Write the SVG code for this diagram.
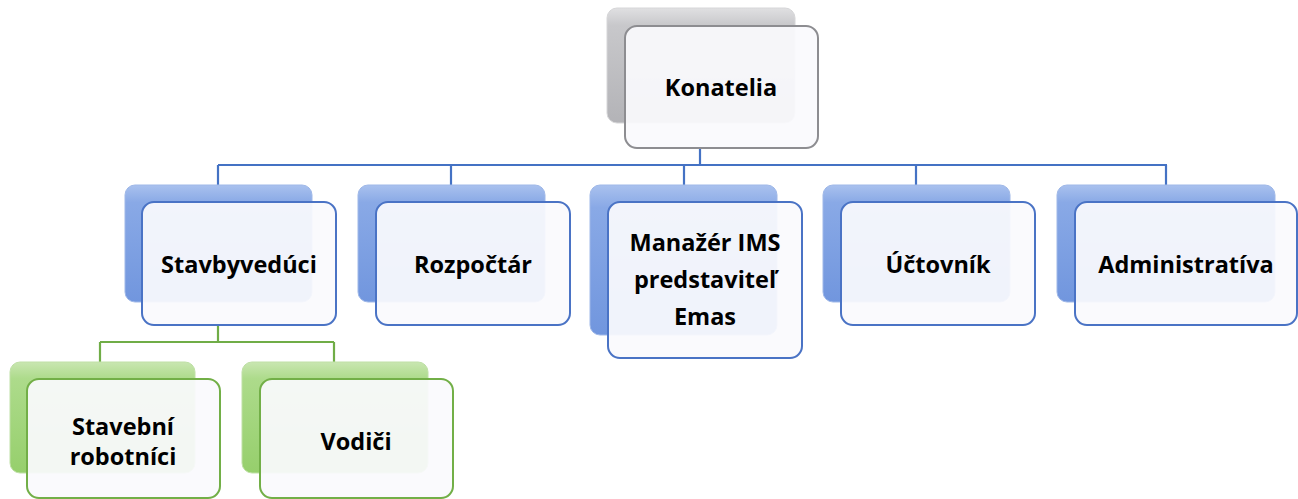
<svg xmlns="http://www.w3.org/2000/svg" width="1298" height="499" viewBox="0 0 1298 499">
<defs>
<linearGradient id="gBlue" x1="0" y1="0" x2="0" y2="1">
<stop offset="0" stop-color="#a9c1ee"/><stop offset="0.15" stop-color="#89a9e6"/><stop offset="1" stop-color="#7196de"/>
</linearGradient>
<linearGradient id="gGreen" x1="0" y1="0" x2="0" y2="1">
<stop offset="0" stop-color="#c9e6b1"/><stop offset="0.15" stop-color="#addb8b"/><stop offset="1" stop-color="#96cf6c"/>
</linearGradient>
<linearGradient id="gGray" x1="0" y1="0" x2="0" y2="1">
<stop offset="0" stop-color="#e0e0e2"/><stop offset="0.15" stop-color="#c8c8cb"/><stop offset="1" stop-color="#b3b3b7"/>
</linearGradient>
</defs>
<style>
.back{stroke-width:1;}
.bb{fill:url(#gBlue);stroke:#9fb8e8;}
.bg{fill:url(#gGreen);stroke:#bfe0a6;}
.bgr{fill:url(#gGray);stroke:#d6d6d8;}
.front{fill:#fafafd;fill-opacity:0.93;stroke-width:2;}
.fb{stroke:#4a73c5;}
.fg{stroke:#72af47;}
.fgr{stroke:#8d8d91;}
.t{font-family:"Open Sans","Liberation Sans",sans-serif;font-weight:700;font-size:23.5px;fill:#000;text-anchor:middle;}
.cb{stroke:#4472c4;stroke-width:2.2;fill:none;}
.cg{stroke:#70ad47;stroke-width:2.2;fill:none;}
</style>
<g id="connectors">
<path class="cb" d="M700 148V165M218 165H1167M218 165V185M451 165V185M684 165V185M916 165V185M1166 165V185"/>
<path class="cg" d="M218 325V342M100 342H334M100 342V362M334 342V362"/>
</g>
<g id="konatelia">
<rect class="back bgr" x="607" y="8" width="188" height="115" rx="10"/>
<rect class="front fgr" x="625" y="26" width="193" height="122" rx="12"/>
<text class="t" x="721" y="96">Konatelia</text>
</g>
<g id="stavbyveduci">
<rect class="back bb" x="125" y="185" width="187" height="117" rx="10"/>
<rect class="front fb" x="142" y="202" width="194" height="123" rx="12"/>
<text class="t" x="239" y="273">Stavbyvedúci</text>
</g>
<g id="rozpoctar">
<rect class="back bb" x="358" y="185" width="187" height="117" rx="10"/>
<rect class="front fb" x="376" y="202" width="194" height="123" rx="12"/>
<text class="t" x="473" y="273">Rozpočtár</text>
</g>
<g id="manazer">
<rect class="back bb" x="590" y="185" width="187" height="150" rx="10"/>
<rect class="front fb" x="608" y="202" width="194" height="156" rx="12"/>
<text class="t" x="705" y="251">Manažér IMS</text>
<text class="t" x="705" y="288">predstaviteľ</text>
<text class="t" x="705" y="325">Emas</text>
</g>
<g id="uctovnik">
<rect class="back bb" x="823" y="185" width="187" height="117" rx="10"/>
<rect class="front fb" x="841" y="202" width="194" height="123" rx="12"/>
<text class="t" x="938" y="273">Účtovník</text>
</g>
<g id="administrativa">
<rect class="back bb" x="1057" y="185" width="218" height="117" rx="10"/>
<rect class="front fb" x="1075" y="202" width="222" height="123" rx="12"/>
<text class="t" x="1186" y="273">Administratíva</text>
</g>
<g id="stavebni">
<rect class="back bg" x="10" y="362" width="185" height="111" rx="10"/>
<rect class="front fg" x="27" y="379" width="193" height="119" rx="12"/>
<text class="t" x="123" y="435">Stavební</text>
<text class="t" x="123" y="465">robotníci</text>
</g>
<g id="vodici">
<rect class="back bg" x="242" y="362" width="186" height="111" rx="10"/>
<rect class="front fg" x="260" y="379" width="193" height="119" rx="12"/>
<text class="t" x="356" y="450">Vodiči</text>
</g>
</svg>
